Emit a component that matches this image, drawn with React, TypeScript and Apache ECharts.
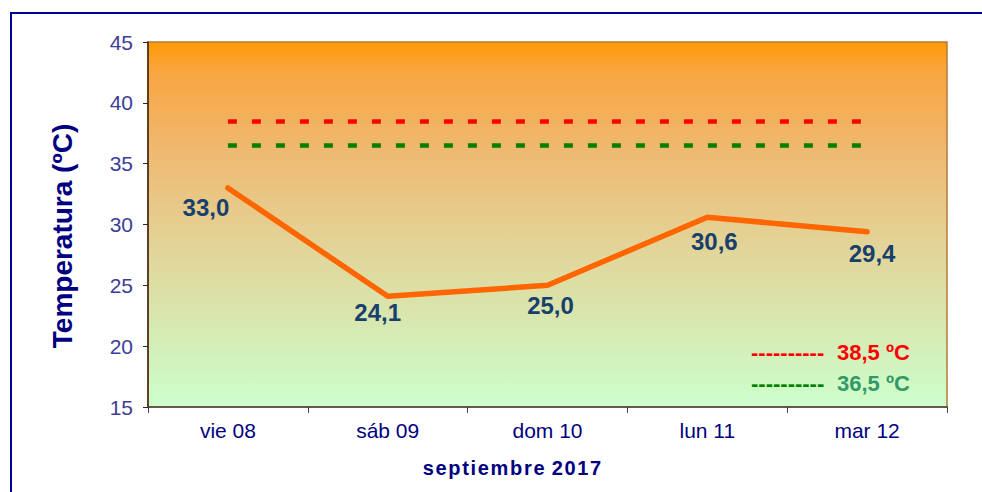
import React, { useEffect, useRef } from "react";
import * as echarts from "echarts";

const categories = ["vie 08", "sáb 09", "dom 10", "lun 11", "mar 12"];
const temperatures = [33.0, 24.1, 25.0, 30.6, 29.4];
const labelOffsets: [number, number][] = [[-22, 7], [-10, 4], [3, 8], [7, 12], [5, 9]];
const thresholdRed = 38.5;
const thresholdGreen = 36.5;
const yMin = 15;
const yMax = 45;
const yInterval = 5;
const xTitle = "septiembre 2017";
const yTitle = "Temperatura (ºC)";

const FONT = "Arial, 'Liberation Sans', sans-serif";

export default function App() {
  const ref = useRef<HTMLDivElement>(null);
  useEffect(() => {
    document.body.style.margin = "0";
    const chart = echarts.init(ref.current!, undefined, { renderer: "svg" });
    const fmt = (v: number) => v.toFixed(1).replace(".", ",");
    const spaced = xTitle
      .split(" ")
      .map((w) => w.split("").join("\u200A"))
      .join(" \u200A");
    chart.setOption({
      animation: false,
      backgroundColor: "#ffffff",
      textStyle: { fontFamily: FONT },
      grid: {
        left: 148,
        top: 42,
        right: 35,
        bottom: 85,
        show: true,
        borderColor: "#B5793A",
        borderWidth: 1.5,
        backgroundColor: {
          type: "linear",
          x: 0, y: 0, x2: 0, y2: 1,
          colorStops: [
            { offset: 0, color: "#FF9A05" },
            { offset: 0.08, color: "#F9A540" },
            { offset: 0.3, color: "#EFB971" },
            { offset: 0.55, color: "#E3D397" },
            { offset: 0.8, color: "#D6EBB4" },
            { offset: 1, color: "#CCFFCC" },
          ],
        },
      },
      xAxis: {
        type: "category",
        data: categories,
        boundaryGap: true,
        axisLine: { lineStyle: { color: "#4a4040", width: 1.5 } },
        axisTick: { show: true, length: 6, inside: false, lineStyle: { color: "#4a4040" } },
        axisLabel: { color: "#000080", fontSize: 21, margin: 13 },
        splitLine: { show: false },
      },
      yAxis: {
        type: "value",
        min: yMin,
        max: yMax,
        interval: yInterval,
        axisLine: { show: true, lineStyle: { color: "#3B2314", width: 1.5 } },
        axisTick: { show: true, length: 5, lineStyle: { color: "#3B2314" } },
        axisLabel: { color: "#3D3D99", fontSize: 21, margin: 15 },
        splitLine: { show: false },
      },
      series: [
        {
          type: "line",
          data: temperatures.map((v, i) => ({
            value: v,
            label: { offset: labelOffsets[i] },
          })),
          symbol: "circle",
          symbolSize: 1,
          showSymbol: true,
          itemStyle: { color: "rgba(0,0,0,0)" },
          lineStyle: { color: "#FF6600", width: 5.5, cap: "round", join: "round" },
          label: {
            show: true,
            position: "bottom",
            distance: 0,
            color: "#17406D",
            fontSize: 24,
            fontWeight: "bold",
            formatter: (p: any) => fmt(p.value),
          },
          markLine: {
            silent: true,
            symbol: "none",
            label: { show: false },
            data: [
              [
                { coord: [0, thresholdRed], lineStyle: { color: "#FF0000", width: 4.5, type: [9, 15] } },
                { coord: [categories.length - 1, thresholdRed] },
              ],
              [
                { coord: [0, thresholdGreen], lineStyle: { color: "#008000", width: 4.5, type: [9, 15] } },
                { coord: [categories.length - 1, thresholdGreen] },
              ],
            ],
          },
          z: 3,
        },
      ],
      graphic: [
        {
          type: "rect",
          shape: { x: 11, y: 13, width: 1000, height: 500 },
          style: { fill: "none", stroke: "#000099", lineWidth: 2 },
          silent: true,
          z: 0,
        },
        {
          type: "text",
          x: 62,
          y: 236,
          rotation: Math.PI / 2,
          style: {
            text: yTitle,
            fill: "#000080",
            font: "bold 28px " + FONT,
            align: "center",
            verticalAlign: "middle",
          },
        },
        {
          type: "text",
          x: 512,
          y: 468,
          style: {
            text: spaced,
            fill: "#000080",
            font: "bold 20px " + FONT,
            align: "center",
            verticalAlign: "middle",
          },
        },
        {
          type: "text",
          x: 751,
          y: 352,
          style: {
            text: "----------",
            fill: "#FF0000",
            font: "bold 22px " + FONT,
            align: "left",
            verticalAlign: "middle",
          },
        },
        {
          type: "text",
          x: 837,
          y: 352,
          style: {
            text: fmt(thresholdRed) + " ºC",
            fill: "#FF0000",
            font: "bold 22px " + FONT,
            align: "left",
            verticalAlign: "middle",
          },
        },
        {
          type: "text",
          x: 751,
          y: 383,
          style: {
            text: "----------",
            fill: "#008000",
            font: "bold 22px " + FONT,
            align: "left",
            verticalAlign: "middle",
          },
        },
        {
          type: "text",
          x: 837,
          y: 383,
          style: {
            text: fmt(thresholdGreen) + " ºC",
            fill: "#339966",
            font: "bold 22px " + FONT,
            align: "left",
            verticalAlign: "middle",
          },
        },
      ],
    });
    return () => chart.dispose();
  }, []);
  return <div ref={ref} style={{ width: 982, height: 492 }} />;
}
